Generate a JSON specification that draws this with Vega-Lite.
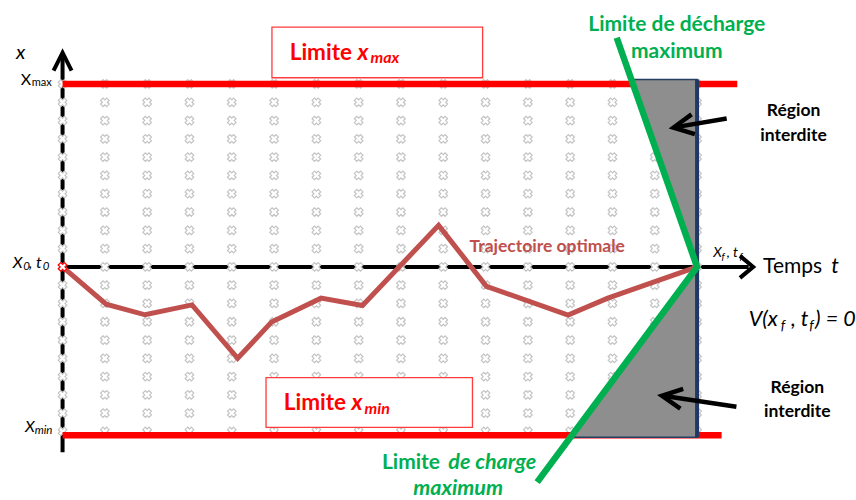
{
  "$schema": "https://vega.github.io/schema/vega-lite/v6.json",
  "width": 856,
  "height": 500,
  "autosize": {"type": "fit", "contains": "padding"},
  "padding": 0,
  "background": "white",
  "config": {"view": {"stroke": null}, "text": {"font": "Lato"}},
  "datasets": {
    "grille": [
      {"t":0,"x":-9},{"t":0,"x":-8},{"t":0,"x":-7},{"t":0,"x":-6},{"t":0,"x":-5},{"t":0,"x":-4},{"t":0,"x":-3},{"t":0,"x":-2},{"t":0,"x":-1},{"t":0,"x":0},{"t":0,"x":1},{"t":0,"x":2},{"t":0,"x":3},{"t":0,"x":4},{"t":0,"x":5},{"t":0,"x":6},{"t":0,"x":7},{"t":0,"x":8},{"t":0,"x":9},{"t":0,"x":10},
      {"t":1,"x":-9},{"t":1,"x":-8},{"t":1,"x":-7},{"t":1,"x":-6},{"t":1,"x":-5},{"t":1,"x":-4},{"t":1,"x":-3},{"t":1,"x":-2},{"t":1,"x":-1},{"t":1,"x":0},{"t":1,"x":1},{"t":1,"x":2},{"t":1,"x":3},{"t":1,"x":4},{"t":1,"x":5},{"t":1,"x":6},{"t":1,"x":7},{"t":1,"x":8},{"t":1,"x":9},{"t":1,"x":10},
      {"t":2,"x":-9},{"t":2,"x":-8},{"t":2,"x":-7},{"t":2,"x":-6},{"t":2,"x":-5},{"t":2,"x":-4},{"t":2,"x":-3},{"t":2,"x":-2},{"t":2,"x":-1},{"t":2,"x":0},{"t":2,"x":1},{"t":2,"x":2},{"t":2,"x":3},{"t":2,"x":4},{"t":2,"x":5},{"t":2,"x":6},{"t":2,"x":7},{"t":2,"x":8},{"t":2,"x":9},{"t":2,"x":10},
      {"t":3,"x":-9},{"t":3,"x":-8},{"t":3,"x":-7},{"t":3,"x":-6},{"t":3,"x":-5},{"t":3,"x":-4},{"t":3,"x":-3},{"t":3,"x":-2},{"t":3,"x":-1},{"t":3,"x":0},{"t":3,"x":1},{"t":3,"x":2},{"t":3,"x":3},{"t":3,"x":4},{"t":3,"x":5},{"t":3,"x":6},{"t":3,"x":7},{"t":3,"x":8},{"t":3,"x":9},{"t":3,"x":10},
      {"t":4,"x":-9},{"t":4,"x":-8},{"t":4,"x":-7},{"t":4,"x":-6},{"t":4,"x":-5},{"t":4,"x":-4},{"t":4,"x":-3},{"t":4,"x":-2},{"t":4,"x":-1},{"t":4,"x":0},{"t":4,"x":1},{"t":4,"x":2},{"t":4,"x":3},{"t":4,"x":4},{"t":4,"x":5},{"t":4,"x":6},{"t":4,"x":7},{"t":4,"x":8},{"t":4,"x":9},{"t":4,"x":10},
      {"t":5,"x":-9},{"t":5,"x":-8},{"t":5,"x":-7},{"t":5,"x":-6},{"t":5,"x":-5},{"t":5,"x":-4},{"t":5,"x":-3},{"t":5,"x":-2},{"t":5,"x":-1},{"t":5,"x":0},{"t":5,"x":1},{"t":5,"x":2},{"t":5,"x":3},{"t":5,"x":4},{"t":5,"x":5},{"t":5,"x":6},{"t":5,"x":7},{"t":5,"x":8},{"t":5,"x":9},{"t":5,"x":10},
      {"t":6,"x":-9},{"t":6,"x":-8},{"t":6,"x":-7},{"t":6,"x":-6},{"t":6,"x":-5},{"t":6,"x":-4},{"t":6,"x":-3},{"t":6,"x":-2},{"t":6,"x":-1},{"t":6,"x":0},{"t":6,"x":1},{"t":6,"x":2},{"t":6,"x":3},{"t":6,"x":4},{"t":6,"x":5},{"t":6,"x":6},{"t":6,"x":7},{"t":6,"x":8},{"t":6,"x":9},{"t":6,"x":10},
      {"t":7,"x":-9},{"t":7,"x":-8},{"t":7,"x":-7},{"t":7,"x":-6},{"t":7,"x":-5},{"t":7,"x":-4},{"t":7,"x":-3},{"t":7,"x":-2},{"t":7,"x":-1},{"t":7,"x":0},{"t":7,"x":1},{"t":7,"x":2},{"t":7,"x":3},{"t":7,"x":4},{"t":7,"x":5},{"t":7,"x":6},{"t":7,"x":7},{"t":7,"x":8},{"t":7,"x":9},{"t":7,"x":10},
      {"t":8,"x":-9},{"t":8,"x":-8},{"t":8,"x":-7},{"t":8,"x":-6},{"t":8,"x":-5},{"t":8,"x":-4},{"t":8,"x":-3},{"t":8,"x":-2},{"t":8,"x":-1},{"t":8,"x":0},{"t":8,"x":1},{"t":8,"x":2},{"t":8,"x":3},{"t":8,"x":4},{"t":8,"x":5},{"t":8,"x":6},{"t":8,"x":7},{"t":8,"x":8},{"t":8,"x":9},{"t":8,"x":10},
      {"t":9,"x":-9},{"t":9,"x":-8},{"t":9,"x":-7},{"t":9,"x":-6},{"t":9,"x":-5},{"t":9,"x":-4},{"t":9,"x":-3},{"t":9,"x":-2},{"t":9,"x":-1},{"t":9,"x":0},{"t":9,"x":1},{"t":9,"x":2},{"t":9,"x":3},{"t":9,"x":4},{"t":9,"x":5},{"t":9,"x":6},{"t":9,"x":7},{"t":9,"x":8},{"t":9,"x":9},{"t":9,"x":10},
      {"t":10,"x":-9},{"t":10,"x":-8},{"t":10,"x":-7},{"t":10,"x":-6},{"t":10,"x":-5},{"t":10,"x":-4},{"t":10,"x":-3},{"t":10,"x":-2},{"t":10,"x":-1},{"t":10,"x":0},{"t":10,"x":1},{"t":10,"x":2},{"t":10,"x":3},{"t":10,"x":4},{"t":10,"x":5},{"t":10,"x":6},{"t":10,"x":7},{"t":10,"x":8},{"t":10,"x":9},{"t":10,"x":10},
      {"t":11,"x":-9},{"t":11,"x":-8},{"t":11,"x":-7},{"t":11,"x":-6},{"t":11,"x":-5},{"t":11,"x":-4},{"t":11,"x":-3},{"t":11,"x":-2},{"t":11,"x":-1},{"t":11,"x":0},{"t":11,"x":1},{"t":11,"x":2},{"t":11,"x":3},{"t":11,"x":4},{"t":11,"x":5},{"t":11,"x":6},{"t":11,"x":7},{"t":11,"x":8},{"t":11,"x":9},{"t":11,"x":10},
      {"t":12,"x":-9},{"t":12,"x":-8},{"t":12,"x":-7},{"t":12,"x":-6},{"t":12,"x":-5},{"t":12,"x":-4},{"t":12,"x":-3},{"t":12,"x":-2},{"t":12,"x":-1},{"t":12,"x":0},{"t":12,"x":1},{"t":12,"x":2},{"t":12,"x":3},{"t":12,"x":4},{"t":12,"x":5},{"t":12,"x":6},{"t":12,"x":7},{"t":12,"x":8},{"t":12,"x":9},{"t":12,"x":10},
      {"t":13,"x":-9},{"t":13,"x":-8},{"t":13,"x":-7},{"t":13,"x":-6},{"t":13,"x":-5},{"t":13,"x":-4},{"t":13,"x":-3},{"t":13,"x":-2},{"t":13,"x":-1},{"t":13,"x":0},{"t":13,"x":1},{"t":13,"x":2},{"t":13,"x":3},{"t":13,"x":4},{"t":13,"x":5},{"t":13,"x":6},{"t":13,"x":7},{"t":13,"x":8},{"t":13,"x":9},{"t":13,"x":10},
      {"t":14,"x":-9},{"t":14,"x":-8},{"t":14,"x":-7},{"t":14,"x":-6},{"t":14,"x":-5},{"t":14,"x":-4},{"t":14,"x":-3},{"t":14,"x":-2},{"t":14,"x":-1},{"t":14,"x":0},{"t":14,"x":1},{"t":14,"x":2},{"t":14,"x":3},{"t":14,"x":4},{"t":14,"x":5},{"t":14,"x":6},{"t":14,"x":7},{"t":14,"x":8},{"t":14,"x":9},{"t":14,"x":10},
      {"t":15,"x":-9},{"t":15,"x":-8},{"t":15,"x":-7},{"t":15,"x":-6},{"t":15,"x":-5},{"t":15,"x":-4},{"t":15,"x":-3},{"t":15,"x":-2},{"t":15,"x":-1},{"t":15,"x":0},{"t":15,"x":1},{"t":15,"x":2},{"t":15,"x":3},{"t":15,"x":4},{"t":15,"x":5},{"t":15,"x":6},{"t":15,"x":7},{"t":15,"x":8},{"t":15,"x":9},{"t":15,"x":10}
    ]
  },
  "encoding": {
    "x": {"field": "t", "type": "quantitative", "scale": {"domain": [-1.479, 18.615], "nice": false, "zero": false}, "axis": null},
    "y": {"field": "x", "type": "quantitative", "scale": {"domain": [-12.582, 14.592], "nice": false, "zero": false}, "axis": null}
  },
  "layer": [
    {
      "data": {"values": [{"t": 0, "x": -10.14, "t2": 0, "x2": 11.6}, {"t": 0, "x": 0, "t2": 16.22, "x2": 0}]},
      "mark": {"type": "rule", "color": "black", "strokeWidth": 4},
      "encoding": {"x2": {"field": "t2"}, "y2": {"field": "x2"}}
    },
    {
      "data": {"values": [{"t": 0, "x": 11.22}]},
      "mark": {"type": "point", "shape": "M -1 1 L 0 -1 L 1 1", "size": 324, "filled": false, "stroke": "black", "strokeWidth": 4, "opacity": 1}
    },
    {
      "data": {"values": [{"t": 16.17, "x": 0}]},
      "mark": {"type": "point", "shape": "M -0.6 -1 L 0.6 0 L -0.6 1", "size": 484, "filled": false, "stroke": "black", "strokeWidth": 4, "opacity": 1}
    },
    {
      "data": {"name": "grille"},
      "mark": {"type": "point", "shape": "cross", "angle": 45, "size": 75, "filled": true, "fill": "white", "stroke": "#c4c4c4", "strokeWidth": 1.2, "opacity": 1}
    },
    {
      "data": {"values": [{"t": 0, "x": 10.0, "t2": 15.95, "x2": 10.0}, {"t": 0, "x": -9.2, "t2": 15.58, "x2": -9.2}]},
      "mark": {"type": "rule", "color": "#ff0000", "strokeWidth": 6.5},
      "encoding": {"x2": {"field": "t2"}, "y2": {"field": "x2"}}
    },
    {
      "data": {"values": [
        {"t": 0, "x": 0}, {"t": 1.03, "x": -2.04}, {"t": 1.95, "x": -2.62}, {"t": 3.06, "x": -2.08},
        {"t": 4.14, "x": -5.0}, {"t": 4.94, "x": -3.02}, {"t": 6.11, "x": -1.71}, {"t": 7.09, "x": -2.11},
        {"t": 8.89, "x": 2.27}, {"t": 10.02, "x": -1.06}, {"t": 11.95, "x": -2.64}, {"t": 12.89, "x": -1.71},
        {"t": 15, "x": 0}
      ]},
      "mark": {"type": "line", "color": "#c0504d", "strokeWidth": 5, "strokeJoin": "miter"}
    },
    {
      "data": {"values": [
        {"zone": "haut", "t": 13.45, "x": 10.24, "x2": 10.24},
        {"zone": "haut", "t": 15, "x": 0, "x2": 10.24},
        {"zone": "bas", "t": 12.01, "x": -9.32, "x2": -9.32},
        {"zone": "bas", "t": 15, "x": 0, "x2": -9.32}
      ]},
      "mark": {"type": "area", "orient": "vertical", "fill": "#8e8e8e", "stroke": "#243f60", "strokeWidth": 1.5, "opacity": 1},
      "encoding": {"y2": {"field": "x2"}, "detail": {"field": "zone"}}
    },
    {
      "data": {"values": [{"t": 15, "x": -9.32, "t2": 15, "x2": 10.24}]},
      "mark": {"type": "rule", "color": "#203864", "strokeWidth": 4},
      "encoding": {"x2": {"field": "t2"}, "y2": {"field": "x2"}}
    },
    {
      "data": {"values": [{"k": 1, "t": 13.1, "x": 12.53}, {"k": 2, "t": 15, "x": 0}, {"k": 3, "t": 11.22, "x": -11.77}]},
      "mark": {"type": "line", "color": "#00b050", "strokeWidth": 6.5, "strokeJoin": "miter"},
      "encoding": {"order": {"field": "k"}}
    },
    {
      "data": {"values": [{"t": 0, "x": 0}]},
      "mark": {"type": "point", "shape": "cross", "angle": 45, "size": 75, "filled": true, "fill": "white", "stroke": "#ff0000", "strokeWidth": 1.3, "opacity": 1}
    },
    {
      "data": {"values": [{"t": 4.95, "t2": 9.93, "x": 13.11, "x2": 10.34}, {"t": 4.81, "t2": 9.69, "x": -6.06, "x2": -8.78}]},
      "mark": {"type": "rect", "fill": "white", "stroke": "#ff3b3b", "strokeWidth": 1.3},
      "encoding": {"x2": {"field": "t2"}, "y2": {"field": "x2"}}
    },
    {
      "data": {"values": [{"t": 15.70, "x": 8.11, "t2": 14.5, "x2": 7.64}, {"t": 15.93, "x": -7.65, "t2": 14.23, "x2": -7.06}]},
      "mark": {"type": "rule", "color": "black", "strokeWidth": 4.5},
      "encoding": {"x2": {"field": "t2"}, "y2": {"field": "x2"}}
    },
    {
      "data": {"values": [{"t": 14.676, "x": 7.71}]},
      "mark": {"type": "point", "shape": "M -1 -1 L 1 0 L -1 1", "size": 400, "angle": 170.4, "filled": false, "stroke": "black", "strokeWidth": 4.5, "opacity": 1}
    },
    {
      "data": {"values": [{"t": 14.404, "x": -7.13}]},
      "mark": {"type": "point", "shape": "M -1 -1 L 1 0 L -1 1", "size": 400, "angle": 188.3, "filled": false, "stroke": "black", "strokeWidth": 4.5, "opacity": 1}
    },
    {
      "data": {"values": [{"t": 5.37, "x": 11.29, "txt": "Limite"}, {"t": 5.23, "x": -7.85, "txt": "Limite"}]},
      "mark": {"type": "text", "align": "left", "baseline": "alphabetic", "fontSize": 22.5, "fontWeight": "bold", "color": "#ff0000"},
      "encoding": {"text": {"field": "txt"}}
    },
    {
      "data": {"values": [{"t": 6.97, "x": 11.29, "txt": "x"}, {"t": 6.83, "x": -7.85, "txt": "x"}]},
      "mark": {"type": "text", "align": "left", "baseline": "alphabetic", "fontSize": 22.5, "fontWeight": "bold", "fontStyle": "italic", "color": "#ff0000"},
      "encoding": {"text": {"field": "txt"}}
    },
    {
      "data": {"values": [{"t": 7.28, "x": 11.15, "txt": "max"}, {"t": 7.14, "x": -8.02, "txt": "min"}]},
      "mark": {"type": "text", "align": "left", "baseline": "alphabetic", "fontSize": 16, "fontWeight": "bold", "fontStyle": "italic", "color": "#ff0000"},
      "encoding": {"text": {"field": "txt"}}
    },
    {
      "data": {"values": [{"t": 14.52, "x": 12.87, "txt": "Limite de décharge"}, {"t": 14.52, "x": 11.42, "txt": "maximum"}]},
      "mark": {"type": "text", "align": "center", "baseline": "alphabetic", "fontSize": 21, "fontWeight": "bold", "color": "#00b050"},
      "encoding": {"text": {"field": "txt"}}
    },
    {
      "data": {"values": [{"t": 7.55, "x": -11.04, "txt": "Limite"}]},
      "mark": {"type": "text", "align": "left", "baseline": "alphabetic", "fontSize": 21, "fontWeight": "bold", "color": "#00b050"},
      "encoding": {"text": {"field": "txt"}}
    },
    {
      "data": {"values": [{"t": 9.12, "x": -11.04, "txt": "de charge"}, {"t": 8.29, "x": -12.49, "txt": "maximum"}]},
      "mark": {"type": "text", "align": "left", "baseline": "alphabetic", "fontSize": 21.5, "fontWeight": "bold", "fontStyle": "italic", "color": "#00b050"},
      "encoding": {"text": {"field": "txt"}}
    },
    {
      "data": {"values": [
        {"t": 17.28, "x": 8.25, "txt": "Région"}, {"t": 17.28, "x": 6.89, "txt": "interdite"},
        {"t": 17.37, "x": -6.875, "txt": "Région"}, {"t": 17.37, "x": -8.23, "txt": "interdite"}
      ]},
      "mark": {"type": "text", "align": "center", "baseline": "alphabetic", "fontSize": 17.5, "fontWeight": "bold", "color": "black"},
      "encoding": {"text": {"field": "txt"}}
    },
    {
      "data": {"values": [{"t": 9.62, "x": 0.83, "txt": "Trajectoire optimale"}]},
      "mark": {"type": "text", "align": "left", "baseline": "alphabetic", "fontSize": 17.5, "fontWeight": "bold", "color": "#c0504d"},
      "encoding": {"text": {"field": "txt"}}
    },
    {
      "data": {"values": [{"t": 16.56, "x": -0.35, "txt": "Temps"}]},
      "mark": {"type": "text", "align": "left", "baseline": "alphabetic", "fontSize": 21, "color": "black"},
      "encoding": {"text": {"field": "txt"}}
    },
    {
      "data": {"values": [
        {"t": 18.17, "x": -0.35, "txt": "t"},
        {"t": 16.22, "x": -3.22, "txt": "V(x"},
        {"t": 17.22, "x": -3.22, "txt": ", t"},
        {"t": 17.79, "x": -3.22, "txt": ") = 0"}
      ]},
      "mark": {"type": "text", "align": "left", "baseline": "alphabetic", "fontSize": 21.5, "fontStyle": "italic", "color": "black"},
      "encoding": {"text": {"field": "txt"}}
    },
    {
      "data": {"values": [{"t": 16.98, "x": -3.43, "txt": "f"}, {"t": 17.65, "x": -3.43, "txt": "f"}]},
      "mark": {"type": "text", "align": "left", "baseline": "alphabetic", "fontSize": 14, "fontStyle": "italic", "color": "black"},
      "encoding": {"text": {"field": "txt"}}
    },
    {
      "data": {"values": [{"t": -1.10, "x": 11.37, "txt": "x"}]},
      "mark": {"type": "text", "align": "left", "baseline": "alphabetic", "fontSize": 20, "fontStyle": "italic", "color": "black"},
      "encoding": {"text": {"field": "txt"}}
    },
    {
      "data": {"values": [{"t": -1.18, "x": -0.04, "txt": "X"}, {"t": -0.80, "x": -0.04, "txt": ", t"}, {"t": -0.89, "x": -9.05, "txt": "X"}]},
      "mark": {"type": "text", "align": "left", "baseline": "alphabetic", "fontSize": 16, "fontStyle": "italic", "color": "black"},
      "encoding": {"text": {"field": "txt"}}
    },
    {
      "data": {"values": [{"t": -0.93, "x": -0.19, "txt": "0"}, {"t": -0.47, "x": -0.19, "txt": "0"}, {"t": -0.66, "x": -9.14, "txt": "min"}]},
      "mark": {"type": "text", "align": "left", "baseline": "alphabetic", "fontSize": 11.5, "fontStyle": "italic", "color": "black"},
      "encoding": {"text": {"field": "txt"}}
    },
    {
      "data": {"values": [{"t": -0.99, "x": 9.97, "txt": "X"}]},
      "mark": {"type": "text", "align": "left", "baseline": "alphabetic", "fontSize": 16, "color": "black"},
      "encoding": {"text": {"field": "txt"}}
    },
    {
      "data": {"values": [{"t": -0.73, "x": 9.88, "txt": "max"}]},
      "mark": {"type": "text", "align": "left", "baseline": "alphabetic", "fontSize": 11, "color": "black"},
      "encoding": {"text": {"field": "txt"}}
    },
    {
      "data": {"values": [{"t": 15.38, "x": 0.55, "txt": "X"}, {"t": 15.7, "x": 0.55, "txt": ", t"}]},
      "mark": {"type": "text", "align": "left", "baseline": "alphabetic", "fontSize": 14, "fontStyle": "italic", "color": "black"},
      "encoding": {"text": {"field": "txt"}}
    },
    {
      "data": {"values": [{"t": 15.58, "x": 0.4, "txt": "f"}, {"t": 16.0, "x": 0.4, "txt": "f"}]},
      "mark": {"type": "text", "align": "left", "baseline": "alphabetic", "fontSize": 10, "fontStyle": "italic", "color": "black"},
      "encoding": {"text": {"field": "txt"}}
    }
  ]
}
